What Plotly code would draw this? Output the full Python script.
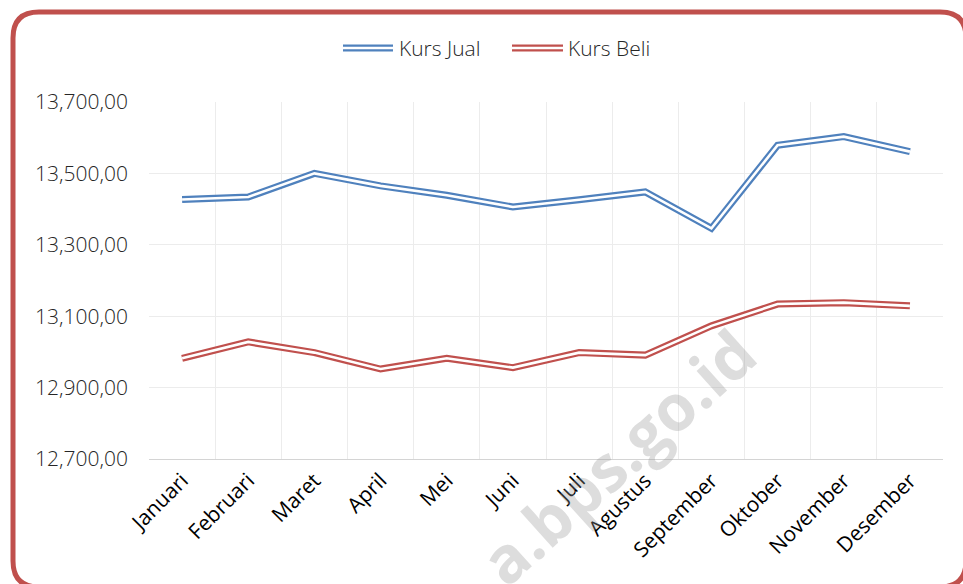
import plotly.graph_objects as go

# ---- data ----
months = ["Januari", "Februari", "Maret", "April", "Mei", "Juni", "Juli",
          "Agustus", "September", "Oktober", "November", "Desember"]
kurs_jual = [13427, 13434, 13500, 13465, 13439, 13406, 13426, 13448,
             13346, 13579, 13603, 13561]
kurs_beli = [12982, 13028, 12998, 12952, 12982, 12956, 12998, 12991,
             13073, 13134, 13138, 13129]
y_ticks = [12700, 12900, 13100, 13300, 13500, 13700]
y_tick_labels = ["12,700,00", "12,900,00", "13,100,00", "13,300,00",
                 "13,500,00", "13,700,00"]
series_names = ["Kurs Jual", "Kurs Beli"]

BLUE = "#4F81BD"
RED = "#C0504D"
W, H = 963, 584
ML, MR, MT, MB = 149, 20, 102, 125
PW, PH = W - ML - MR, H - MT - MB


def px(x):
    return (x - ML) / PW


def py(y):
    return (H - MB - y) / PH


fig = go.Figure()
for name, vals, col in [(series_names[0], kurs_jual, BLUE),
                        (series_names[1], kurs_beli, RED)]:
    fig.add_trace(go.Scatter(x=months, y=vals, mode="lines", name=name,
                             line=dict(color=col, width=7), showlegend=False,
                             hoverinfo="skip"))
    fig.add_trace(go.Scatter(x=months, y=vals, mode="lines", name=name,
                             line=dict(color="white", width=2.6), showlegend=False,
                             hoverinfo="skip"))

shapes = []
# rounded border
L, T, R, B, r = 13, 12, 966, 587, 26
pts = [("M", L + r, T), ("L", R - r, T), ("Q", R, T, R, T + r), ("L", R, B - r),
       ("Q", R, B, R - r, B), ("L", L + r, B), ("Q", L, B, L, B - r),
       ("L", L, T + r), ("Q", L, T, L + r, T)]
path = ""
for p in pts:
    cmd = p[0]
    coords = p[1:]
    seg = []
    for i in range(0, len(coords), 2):
        seg.append(f"{px(coords[i]):.5f},{py(coords[i+1]):.5f}")
    path += cmd + " " + " ".join(seg) + " "
path += "Z"
shapes.append(dict(type="path", xref="paper", yref="paper", path=path,
                   line=dict(color=RED, width=5), fillcolor="rgba(0,0,0,0)",
                   layer="above"))

# manual legend (double line)
annotations = []
for (x0, x1, tx, name, col) in [(343, 393, 397, series_names[0], BLUE),
                                (512, 563, 566, series_names[1], RED)]:
    shapes.append(dict(type="line", xref="paper", yref="paper",
                       x0=px(x0), x1=px(x1), y0=py(48), y1=py(48),
                       line=dict(color=col, width=7)))
    shapes.append(dict(type="line", xref="paper", yref="paper",
                       x0=px(x0), x1=px(x1), y0=py(48), y1=py(48),
                       line=dict(color="white", width=2.6)))
    annotations.append(dict(xref="paper", yref="paper", x=px(tx), y=py(48),
                            xanchor="left", yanchor="middle", text=name,
                            showarrow=False,
                            font=dict(family="Open Sans", size=21,
                                      color="#262626", weight=300)))

# watermark
annotations.append(dict(xref="paper", yref="paper", x=px(617), y=py(456),
                        text="<b>a.bps.go.id</b>", showarrow=False,
                        textangle=-42, xanchor="center", yanchor="middle",
                        font=dict(family="Open Sans", size=64,
                                  color="rgba(150,150,150,0.32)")))

fig.update_layout(
    width=W, height=H, autosize=False,
    margin=dict(l=ML, r=MR, t=MT, b=MB),
    paper_bgcolor="white", plot_bgcolor="white",
    shapes=shapes, annotations=annotations,
    xaxis=dict(type="category", tickson="boundaries", showgrid=True,
               gridcolor="#ececec", gridwidth=1, showline=True,
               linecolor="#d4d4d4", linewidth=1, ticks="", tickangle=-45,
               tickfont=dict(family="Open Sans", size=21, color="#000000"),
               range=[-0.5, 11.5], fixedrange=True),
    yaxis=dict(range=[12700, 13700], tickvals=y_ticks, ticktext=y_tick_labels,
               showgrid=True, gridcolor="#ececec", gridwidth=1,
               zeroline=False, showline=False, ticks="",
               ticklabelstandoff=20,
               tickfont=dict(family="Open Sans", size=21, color="#262626",
                             weight=300),
               fixedrange=True),
)

fig.write_html("out.html", config={"displayModeBar": False},
               post_script="document.body.style.margin='0';"
                           "document.body.style.padding='0';")
